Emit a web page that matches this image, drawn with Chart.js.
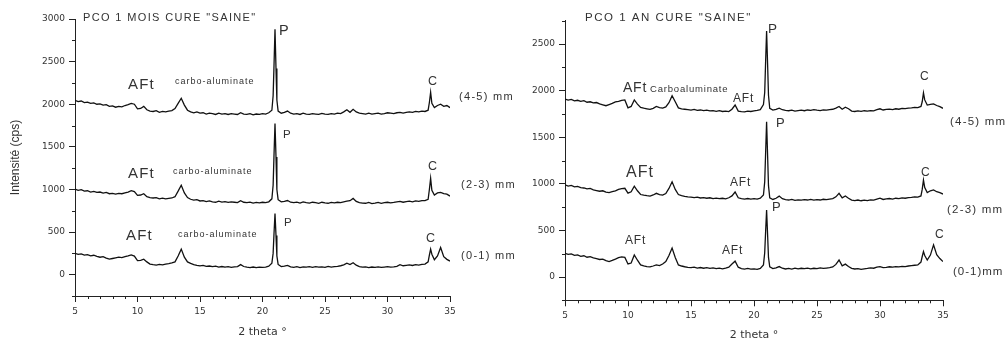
<!DOCTYPE html>
<html>
<head>
<meta charset="utf-8">
<script src="https://cdn.jsdelivr.net/npm/chart.js@4.4.0/dist/chart.umd.min.js"></script>
<style>
  body { margin: 0; background: #fff; }
  #wrap { position: relative; width: 1008px; height: 342px; }
  canvas { position: absolute; top: 0; }
  #c1 { left: 0; }
  #c2 { left: 525px; }
</style>
</head>
<body>
<div id="wrap">
  <canvas id="c1" width="525" height="342"></canvas>
  <canvas id="c2" width="483" height="342"></canvas>
</div>
<script>
// 2 theta (deg), shared by all six scans
var theta = [
  5, 5.25, 5.5, 5.75, 6, 6.25, 6.5, 6.75, 7, 7.25,
  7.5, 7.75, 8, 8.25, 8.5, 8.75, 9, 9.25, 9.5, 9.75,
  10, 10.25, 10.5, 10.75, 11, 11.25, 11.5, 11.75, 12, 12.25,
  12.5, 12.75, 13, 13.25, 13.5, 13.75, 14, 14.25, 14.5, 14.75,
  15, 15.25, 15.5, 15.75, 16, 16.25, 16.5, 16.75, 17, 17.25,
  17.5, 17.75, 18, 18.25, 18.5, 18.75, 19, 19.25, 19.5, 19.75,
  20, 20.25, 20.5, 20.75, 20.85, 20.92, 21, 21.08, 21.15, 21.25,
  21.5, 21.75, 22, 22.25, 22.5, 22.75, 23, 23.25, 23.5, 23.75,
  24, 24.25, 24.5, 24.75, 25, 25.25, 25.5, 25.75, 26, 26.25,
  26.5, 26.75, 27, 27.25, 27.5, 27.75, 28, 28.25, 28.5, 28.75,
  29, 29.25, 29.5, 29.75, 30, 30.25, 30.5, 30.75, 31, 31.25,
  31.5, 31.75, 32, 32.25, 32.5, 32.75, 33, 33.25, 33.35, 33.45,
  33.55, 33.75, 34, 34.25, 34.5, 34.75, 35
];

// PCO 1 mois (cps, offset traces as plotted)
var mois45 = [
  2045, 2030, 2038, 2020, 2025, 2010, 2015, 2000, 2005, 1990,
  1995, 1975, 1980, 1965, 1975, 1970, 1985, 1995, 2010, 2000,
  1945, 1950, 1975, 1935, 1920, 1915, 1925, 1905, 1915, 1910,
  1920, 1925, 1950, 2010, 2070, 1990, 1930, 1910, 1900, 1910,
  1895, 1900, 1885, 1895, 1890, 1880, 1895, 1885, 1890, 1880,
  1890, 1885, 1880, 1900, 1885, 1880, 1890, 1875, 1885, 1880,
  1890, 1885, 1900, 1930, 2100, 2450, 2880, 2420, 2050, 1920,
  1895, 1905, 1920, 1895, 1885, 1890, 1880, 1895, 1885, 1880,
  1890, 1885, 1880, 1892, 1885, 1880, 1890, 1885, 1895, 1890,
  1910, 1935, 1905, 1940, 1910, 1895, 1890, 1885, 1895, 1885,
  1890, 1895, 1885, 1890, 1900, 1895, 1890, 1900, 1905, 1895,
  1905, 1910, 1905, 1915, 1910, 1920, 1915, 1930, 2020, 2140,
  2010, 1960, 1985, 2000, 1975, 1985, 1960
];
var mois23 = [
  1005, 990, 998, 980, 985, 970, 978, 965, 970, 958,
  965, 950, 955, 945, 955, 950, 960, 970, 985, 975,
  930, 935, 950, 915, 905, 900, 905, 890, 898, 890,
  895, 900, 915, 980, 1050, 960, 905, 885, 875, 880,
  865, 870, 858, 865, 855, 850, 862, 852, 858, 848,
  855, 850, 845, 868, 850, 845, 852, 840, 848, 842,
  850, 845, 855, 890, 1050, 1400, 1775, 1380, 1000, 880,
  855, 860, 870, 850, 845, 852, 840, 855, 845, 840,
  850, 845, 838, 850, 842, 838, 848, 842, 850, 845,
  855, 862, 868, 895, 860, 845, 840, 838, 848, 835,
  840, 848, 838, 845, 850, 842, 848, 855, 860, 850,
  858, 862, 855, 865, 860, 870, 868, 885, 1000, 1130,
  990, 935, 960, 965, 950, 945, 922
];
var mois01 = [
  250, 238, 245, 230, 236, 222, 228, 215, 205, 212,
  195, 182, 190, 198, 205, 200, 212, 220, 232, 218,
  165, 168, 182, 150, 125, 118, 112, 120, 115, 125,
  130, 138, 150, 220, 300, 205, 150, 132, 118, 110,
  104, 110, 98, 102, 95, 100, 90, 96, 88, 94,
  86, 92, 95, 118, 96, 88, 84, 90, 82, 88,
  85, 90, 100, 135, 250, 480, 718, 460, 220, 120,
  95, 100, 110, 92, 86, 95, 84, 92, 88, 94,
  86, 95, 88, 92, 85, 98, 90, 94, 98, 105,
  115, 135, 118, 140, 112, 95, 88, 92, 84, 90,
  86, 92, 85, 90, 95, 88, 92, 98, 118, 105,
  110, 115, 108, 118, 112, 120, 125, 150, 230, 300,
  240, 175, 220, 320, 212, 180, 160
];

// PCO 1 an
var an45 = [
  1910, 1898, 1905, 1890, 1896, 1885, 1892, 1875, 1880, 1868,
  1872, 1858, 1848, 1838, 1850, 1862, 1878, 1885, 1895, 1900,
  1815, 1830, 1900, 1855, 1820, 1812, 1805, 1798, 1810, 1830,
  1818, 1812, 1825, 1870, 1945, 1880, 1815, 1805, 1800, 1795,
  1790, 1798, 1788, 1792, 1785, 1790, 1782, 1786, 1778, 1784,
  1776, 1780, 1775, 1800, 1845, 1780, 1775, 1772, 1780, 1776,
  1782, 1788, 1795, 1850, 1980, 2300, 2640, 2280, 1950, 1810,
  1790, 1798, 1812, 1795, 1788, 1784, 1790, 1780, 1786, 1790,
  1784, 1792, 1788, 1795, 1790, 1786, 1794, 1790, 1796, 1800,
  1812, 1830, 1800, 1822, 1805, 1780, 1776, 1782, 1778, 1784,
  1780, 1786, 1782, 1795, 1805, 1792, 1798, 1802, 1796, 1805,
  1800, 1810, 1806, 1812, 1815, 1820, 1818, 1830, 1880, 1975,
  1900, 1845, 1852, 1858, 1840, 1828, 1810
];
var an23 = [
  988, 975, 982, 968, 972, 960, 955, 945, 950, 935,
  928, 920, 925, 910, 905, 915, 925, 940, 948, 952,
  900, 915, 975, 925, 885, 878, 872, 868, 880, 898,
  885, 878, 895, 950, 1022, 940, 885, 872, 865, 860,
  858, 852, 856, 848, 852, 845, 850, 842, 846, 840,
  845, 838, 850, 870, 912, 850, 840, 835, 842, 836,
  840, 835, 845, 880, 1020, 1320, 1665, 1300, 980, 850,
  832, 845, 868, 840, 830, 826, 832, 822, 828, 824,
  830, 826, 832, 825, 830, 826, 834, 830, 836, 842,
  860, 898, 850, 870, 845, 825, 820, 826, 818, 824,
  820, 828, 824, 835, 845, 832, 838, 842, 836, 845,
  840, 848, 845, 852, 855, 860, 858, 870, 940, 1040,
  960, 905, 925, 935, 915, 905, 890
];
var an01 = [
  255, 242, 248, 232, 238, 222, 228, 212, 218, 205,
  198, 188, 192, 175, 165, 178, 192, 208, 215, 210,
  140, 150, 236, 180, 130, 120, 112, 108, 118, 130,
  122, 140, 165, 230, 310, 210, 130, 118, 110, 104,
  100, 106, 96, 102, 94, 100, 92, 98, 90, 96,
  88, 95, 105, 140, 170, 105, 90, 85, 92, 84,
  88, 82, 92, 130, 260, 480, 718, 450, 210, 110,
  90, 98, 112, 94, 86, 92, 85, 95, 88, 94,
  90, 96, 88, 94, 90, 98, 92, 96, 100, 108,
  135, 182, 120, 138, 112, 92, 86, 90, 82, 88,
  92, 98, 94, 105, 112, 100, 104, 110, 106, 112,
  108, 115, 112, 118, 122, 126, 130, 160, 220, 272,
  230, 182, 235, 345, 240, 198, 165
];

var xTicks = [5, 10, 15, 20, 25, 30, 35];
var yTicksMois = [0, 500, 1000, 1500, 2000, 2500, 3000];
var yTicksAn = [0, 500, 1000, 1500, 2000, 2500];

// peak labels, placed in data units
var notesMois = [
  { t: 'PCO 1 MOIS CURE "SAINE"', x: 5.64, y: 3012, s: 11, ls: 1.36 },
  { t: "P", x: 21.32, y: 2859, s: 14.5, ls: 0 },
  { t: "AFt", x: 9.24, y: 2226, s: 15, ls: 1.2 },
  { t: "carbo-aluminate", x: 13.0, y: 2261, s: 9, ls: 1 },
  { t: "C", x: 33.24, y: 2261, s: 12.5, ls: 0 },
  { t: "(4-5) mm", x: 35.72, y: 2085, s: 11, ls: 1.3 },
  { t: "P", x: 21.64, y: 1639, s: 11.5, ls: 0 },
  { t: "AFt", x: 9.24, y: 1182, s: 15, ls: 1.2 },
  { t: "carbo-aluminate", x: 12.84, y: 1205, s: 9, ls: 1 },
  { t: "C", x: 33.24, y: 1264, s: 12.5, ls: 0 },
  { t: "(2-3) mm", x: 35.88, y: 1052, s: 11, ls: 1.3 },
  { t: "P", x: 21.72, y: 607, s: 11.5, ls: 0 },
  { t: "AFt", x: 9.08, y: 454, s: 15, ls: 1.2 },
  { t: "carbo-aluminate", x: 13.24, y: 466, s: 9, ls: 1 },
  { t: "C", x: 33.08, y: 419, s: 12.5, ls: 0 },
  { t: "(0-1) mm", x: 35.88, y: 219, s: 11, ls: 1.3 }
];
var notesAn = [
  { t: 'PCO 1 AN CURE "SAINE"', x: 6.59, y: 2784, s: 11.5, ls: 1.5 },
  { t: "P", x: 21.11, y: 2661, s: 13.5, ls: 0 },
  { t: "AFt", x: 9.6, y: 2028, s: 14, ls: 0.8 },
  { t: "Carboaluminate", x: 11.75, y: 2017, s: 9.5, ls: 0.8 },
  { t: "AFt", x: 18.33, y: 1910, s: 12, ls: 0.8 },
  { t: "C", x: 33.17, y: 2146, s: 12, ls: 0 },
  { t: "(4-5) mm", x: 35.56, y: 1663, s: 11.5, ls: 1.2 },
  { t: "P", x: 21.75, y: 1652, s: 13, ls: 0 },
  { t: "AFt", x: 9.84, y: 1116, s: 16, ls: 1 },
  { t: "AFt", x: 18.1, y: 1009, s: 12, ls: 0.8 },
  { t: "C", x: 33.25, y: 1116, s: 12, ls: 0 },
  { t: "(2-3) mm", x: 35.32, y: 719, s: 11.5, ls: 1.2 },
  { t: "P", x: 21.43, y: 751, s: 13, ls: 0 },
  { t: "AFt", x: 9.76, y: 386, s: 12, ls: 0.8 },
  { t: "AFt", x: 17.46, y: 279, s: 12, ls: 0.8 },
  { t: "C", x: 34.37, y: 451, s: 12, ls: 0 },
  { t: "(0-1)mm", x: 35.79, y: 54, s: 11.5, ls: 1 }
];

// minor ticks + text labels
var marks = {
  id: "marks",
  afterDraw: function (chart, args, opts) {
    var ctx = chart.ctx, a = chart.chartArea, x = chart.scales.x, y = chart.scales.y;
    ctx.save();
    ctx.strokeStyle = "#222";
    ctx.lineWidth = 1;
    ctx.beginPath();
    for (var v = x.min; v <= x.max; v += 1) {
      if (v % 5) {
        var px = Math.round(x.getPixelForValue(v)) + 0.5;
        ctx.moveTo(px, a.bottom);
        ctx.lineTo(px, a.bottom + 3);
      }
    }
    for (var w = y.min; w <= y.max; w += 250) {
      if (w % 500) {
        var py = Math.round(y.getPixelForValue(w)) + 0.5;
        ctx.moveTo(a.left - 3, py);
        ctx.lineTo(a.left, py);
      }
    }
    ctx.stroke();
    ctx.fillStyle = "#333";
    ctx.textAlign = "left";
    ctx.textBaseline = "middle";
    opts.notes.forEach(function (n) {
      ctx.font = n.s + 'px "Liberation Sans", Arial, sans-serif';
      ctx.letterSpacing = n.ls + "px";
      ctx.fillText(n.t, x.getPixelForValue(n.x), y.getPixelForValue(n.y));
    });
    ctx.restore();
  }
};

function plain(v) { return String(v); }

function makexrd(can, series, ymax, yticks, ytitle, notes, box) {
  var ctx = document.getElementById(can).getContext("2d");
  var chart = new Chart(ctx, {
    type: "line",
    data: {
      datasets: series.map(function (s) {
        return {
          data: theta.map(function (t, i) { return { x: t, y: s[i] }; }),
          borderColor: "#111",
          borderWidth: 1.3,
          pointRadius: 0,
          tension: 0,
          fill: false
        };
      })
    },
    options: {
      responsive: false,
      animation: false,
      devicePixelRatio: 1,
      layout: { padding: { left: 0, top: box.top, right: box.right, bottom: 0 } },
      plugins: {
        legend: { display: false },
        tooltip: { enabled: false },
        marks: { notes: notes }
      },
      scales: {
        x: {
          type: "linear",
          min: 5,
          max: 35,
          afterBuildTicks: function (s) { s.ticks = xTicks.map(function (v) { return { value: v }; }); },
          afterFit: function (s) { s.height = box.xh; },
          ticks: { font: { family: "DejaVu Sans", size: 9 }, color: "#333", padding: 4, maxRotation: 0, autoSkip: false, callback: plain },
          grid: { drawOnChartArea: false, tickLength: 6, tickColor: "#222" },
          border: { color: "#222", width: 1 },
          title: {
            display: true,
            text: "2 theta °",
            font: { family: "DejaVu Sans", size: 11 },
            color: "#333",
            padding: { top: 0, bottom: box.tp }
          }
        },
        y: {
          min: -250,
          max: ymax,
          afterBuildTicks: function (s) { s.ticks = yticks.map(function (v) { return { value: v }; }); },
          afterFit: function (s) { s.width = box.yw; },
          ticks: { font: { family: "DejaVu Sans", size: 9 }, color: "#333", padding: 4, autoSkip: false, callback: plain },
          grid: { drawOnChartArea: false, tickLength: 6, tickColor: "#222" },
          border: { color: "#222", width: 1 },
          title: {
            display: !!ytitle,
            text: ytitle,
            font: { family: "Liberation Sans", size: 12 },
            color: "#333",
            padding: { top: 8, bottom: 0 }
          }
        }
      }
    },
    plugins: [marks]
  });
  return chart;
}

makexrd("c1", [mois45, mois23, mois01], 3000, yTicksMois, "Intensité (cps)", notesMois,
  { top: 19, right: 75, xh: 46, yw: 75, tp: 3.4 });
makexrd("c2", [an45, an23, an01], 2750, yTicksAn, "", notesAn,
  { top: 20.7, right: 65, xh: 41.7, yw: 40, tp: 0 });
</script>
</body>
</html>
